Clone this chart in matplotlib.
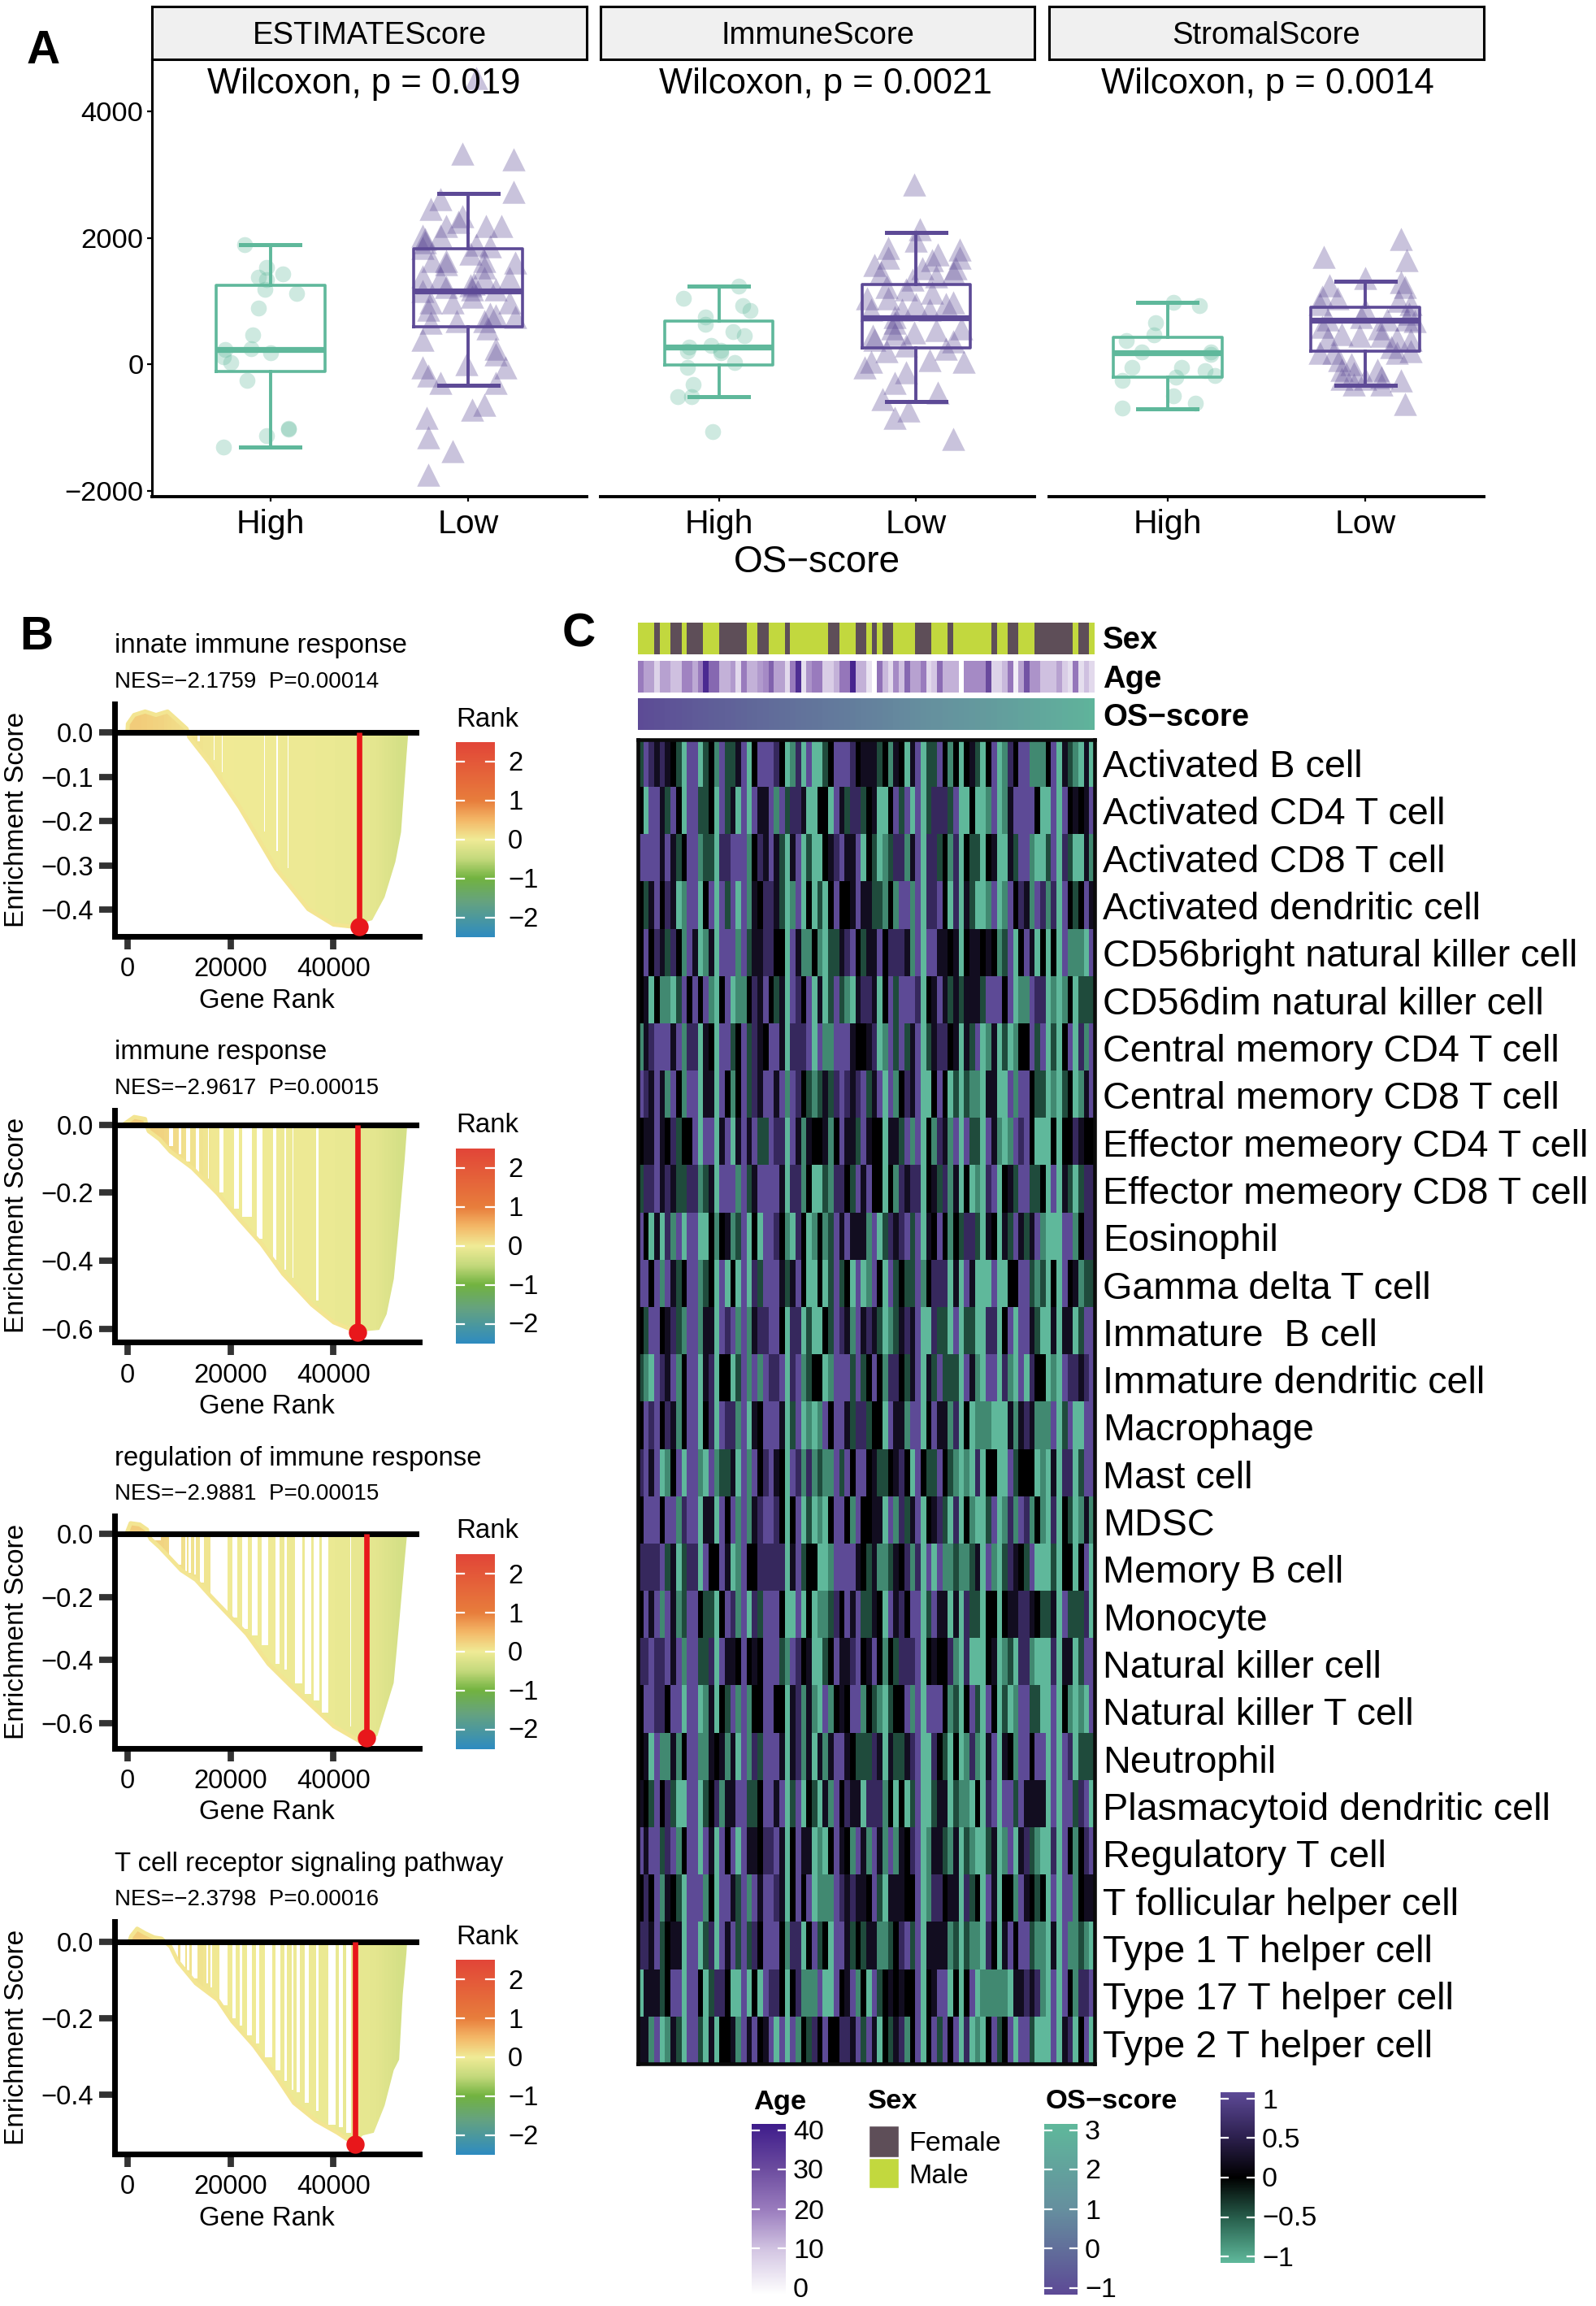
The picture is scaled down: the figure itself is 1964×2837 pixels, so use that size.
import numpy as np
import matplotlib
matplotlib.use('Agg')
import matplotlib.pyplot as plt
from matplotlib.colors import LinearSegmentedColormap, ListedColormap
from matplotlib.patches import Polygon, Rectangle

plt.rcParams['font.family'] = 'Liberation Sans'

W, H = 1964, 2837
GREEN = '#5FB89B'
PURPLE = '#5D4A96'

# Panel A: ESTIMATE / Immune / Stromal scores
score_names = ['ESTIMATEScore', 'ImmuneScore', 'StromalScore']
p_labels = ['Wilcoxon, p = 0.019', 'Wilcoxon, p = 0.0021', 'Wilcoxon, p = 0.0014']
p_label_x = [1.474, 1.54, 1.507]

est_high_x = [0.87, 0.98, 1.06, 0.94, 0.98, 0.97, 1.13, 0.94, 0.91, 0.90, 0.77, 0.76, 1.0, 0.80, 0.88, 1.09, 1.09, 0.98, 0.76]
est_high_y = [1893, 1527, 1432, 1385, 1337, 1189, 1124, 893, 467, 243, 231, 124, 183, 24, -249, -1018, -1030, -1130, -1308]
est_low_x = [2.04, 1.97, 2.23, 2.23, 1.86, 1.81, 1.97, 1.95, 1.89, 2.09, 2.17, 1.77, 1.86, 1.78, 1.78, 2.04, 2.11, 1.77, 2.01,
             1.82, 1.89, 1.89, 2.08, 2.08, 2.24, 1.86, 1.77, 2.21, 2.08, 2.01, 2.03, 2.14, 1.77, 1.89, 2.02, 1.81, 1.92, 2.21,
             2.02, 1.80, 2.11, 2.14, 2.24, 1.94, 1.81, 2.08, 2.10, 1.77, 2.14, 2.14, 1.99, 2.19, 1.77, 1.80, 1.86, 2.14, 2.08,
             2.02, 1.79, 1.80, 1.92, 1.80]
est_low_y = [4532, 3337, 3243, 2728, 2610, 2462, 2343, 2254, 2195, 2183, 2189, 2035, 2030, 1988, 1929, 1899, 1870, 1840, 1751,
             1633, 1633, 1586, 1633, 1527, 1604, 1367, 1396, 1367, 1367, 1248, 1278, 1189, 1160, 1219, 1189, 982, 982, 982,
             1071, 864, 805, 775, 746, 686, 657, 686, 568, 391, 243, 154, 6, -53, -53, -172, -290, -290, -645,
             -722, -852, -1148, -1367, -1740]

imm_high_x = [1.10, 0.82, 1.12, 1.16, 0.93, 0.93, 1.07, 1.13, 0.96, 0.85, 0.84, 1.01, 1.01, 1.08, 0.84, 0.87, 0.79, 0.86, 0.97]
imm_high_y = [1231, 1041, 923, 852, 746, 639, 521, 450, 302, 272, 213, 225, 183, 24, -53, -320, -509, -509, -1059]
imm_low_x = [1.99, 2.02, 2.0, 1.86, 1.86, 2.22, 2.22, 2.11, 1.79, 2.08, 2.2, 1.82, 2.03, 2.10, 1.98, 2.19, 1.95, 1.85, 2.08, 1.75,
             1.86, 2.19, 2.15, 2.0, 1.77, 1.93, 2.07, 1.89, 1.89, 1.78, 1.99, 1.88, 2.10, 2.23, 1.79, 1.89, 1.95, 1.85, 2.19, 2.15,
             2.07, 1.77, 2.24, 1.74, 1.95, 1.89, 2.11, 1.83, 1.96, 1.89, 2.19]
imm_low_y = [2846, 2136, 1959, 1840, 1692, 1822, 1692, 1740, 1574, 1645, 1515, 1456, 1515, 1396, 1337, 1456, 1189, 1219, 1130, 1041,
             1041, 982, 953, 953, 864, 864, 864, 746, 657, 450, 509, 568, 538, 568, 391, 479, 302, 213, 361, 243,
             65, 36, 36, -53, -130, -290, -450, -556, -734, -840, -1177]

str_high_x = [1.03, 1.16, 0.94, 0.93, 0.79, 0.87, 1.22, 1.22, 0.82, 1.07, 1.19, 1.04, 1.24, 0.77, 1.03, 1.14, 0.77]
str_high_y = [982, 935, 657, 461, 379, 201, 201, 154, -53, -53, -95, -201, -172, -260, -497, -615, -686]
str_low_x = [2.18, 2.21, 1.79, 2.0, 1.82, 2.18, 2.2, 1.78, 1.86, 2.17, 1.77, 2.23, 2.0, 2.22, 1.98, 1.81, 2.25, 2.11, 2.21,
             1.78, 2.07, 1.88, 1.97, 1.81, 2.08, 2.16, 2.23, 1.77, 1.84, 2.13, 2.16, 2.23, 1.87, 1.93, 1.88, 2.06, 1.94, 1.88,
             2.08, 1.94, 2.08, 2.18, 2.2, 2.0]
str_low_y = [1988, 1645, 1704, 1367, 1248, 1308, 1219, 1071, 1041, 1012, 953, 953, 864, 805, 746, 716, 686, 716, 716,
             598, 568, 479, 450, 420, 450, 420, 391, 183, 183, 272, 183, 213, 65, 6, -83, -83, -142, -231,
             -201, -320, -320, -260, -627, -231]

# q1, median, q3, lower whisker, upper whisker
est_high_box = [-118, 237, 1254, -1308, 1893]
est_low_box = [598, 1160, 1828, -331, 2698]
imm_high_box = [-12, 272, 686, -509, 1237]
imm_low_box = [260, 734, 1260, -586, 2089]
str_high_box = [-201, 183, 426, -698, 982]
str_low_box = [207, 698, 899, -337, 1320]

# Panel B: GSEA running scores
gsea_titles = ['innate immune response', 'immune response', 'regulation of immune response', 'T cell receptor signaling pathway']
gsea_stats = ['NES=\u22122.1759  P=0.00014', 'NES=\u22122.9617  P=0.00015', 'NES=\u22122.9881  P=0.00015', 'NES=\u22122.3798  P=0.00016']
gsea_yticks = [[0.0, -0.1, -0.2, -0.3, -0.4], [0.0, -0.2, -0.4, -0.6], [0.0, -0.2, -0.4, -0.6], [0.0, -0.2, -0.4]]
gsea_ylims = [(-0.46, 0.065), (-0.6395, 0.0431), (-0.678, 0.0559), (-0.5545, 0.0519)]
gsea_tops = [866, 1365.7, 1865, 2364.3]

rank1 = [0, 100, 1300, 3450, 5560, 7800, 9800, 11500, 12000, 16100, 21800, 28800, 35100, 40000, 43200, 47500, 49900, 52000, 53100, 54150, 54500]
es1 = [0, .02, .04, .048, .04, .048, .027, .009, -.01, -.071, -.169, -.307, -.399, -.434, -.438, -.424, -.372, -.292, -.225, -.053, 0]
rank2 = [-350, 1340, 3450, 3660, 4150, 6270, 8380, 12600, 17500, 21750, 26000, 30200, 35800, 40050, 44650, 48860, 50300, 51700, 52700, 53800, 54300]
es2 = [.005, .023, .017, 0, -.019, -.043, -.079, -.127, -.202, -.278, -.35, -.438, -.529, -.581, -.609, -.603, -.557, -.453, -.294, -.103, 0]
rank3 = [-70, 630, 2390, 3800, 4010, 4510, 6270, 10490, 13300, 16120, 19640, 23160, 27390, 31610, 35830, 40060, 46040, 48500, 49900, 51670, 52730, 53790, 54280]
es3 = [.004, .033, .029, .013, 0, -.017, -.043, -.116, -.146, -.197, -.257, -.317, -.412, -.48, -.545, -.609, -.665, -.639, -.566, -.472, -.283, -.086, 0]
rank4 = [280, 770, 1900, 3450, 5210, 6620, 8380, 9790, 13300, 17530, 20350, 24570, 28790, 32310, 36540, 40760, 43930, 45690, 47800, 49910, 51670, 52730, 53430, 54140, 54280]
es4 = [-.003, .015, .034, .022, .011, .008, -.013, -.052, -.109, -.152, -.208, -.272, -.35, -.421, -.467, -.499, -.527, -.506, -.499, -.428, -.336, -.308, -.138, -.031, 0]
gsea_ranks = [rank1, rank2, rank3, rank4]
gsea_es = [es1, es2, es3, es4]

# leading edge marker
peak_rank = [44930, 44650, 46400, 44230]
peak_es = [-0.438, -0.609, -0.646, -0.528]

# white gaps between the gene bars: start rank, end rank, score where it stops
gaps1 = [(13660, 14010, -.019), (15420, 15560, -.047), (16760, 16900, -.062), (18370, 18520, -.089),
         (26540, 26680, -.224), (28930, 29220, -.267), (31050, 31260, -.307)]
gaps2 = [(8030, 8940, -.063), (9930, 10490, -.087), (11400, 12110, -.107), (13300, 13870, -.139), (15630, 15840, -.159),
         (17810, 18660, -.198), (20700, 21610, -.246), (22320, 24220, -.27), (25130, 26260, -.334), (28230, 28940, -.398),
         (30550, 30760, -.426), (32030, 32240, -.45), (36600, 37030, -.517)]
gaps3 = [(4290, 6480, -.021), (8100, 10490, -.099), (11190, 11550, -.12), (11900, 12320, -.124), (13020, 13310, -.129),
         (14150, 14920, -.154), (16120, 19500, -.249), (20350, 21260, -.266), (22320, 23300, -.30), (24220, 25270, -.322),
         (25980, 27390, -.352), (28790, 29500, -.412), (30550, 30910, -.429), (32450, 33930, -.472), (34430, 35690, -.506),
         (36190, 37240, -.528), (37800, 39000, -.566), (43230, 43440, -.609)]
gaps4 = [(8380, 9790, -.045), (10280, 11190, -.067), (11550, 12040, -.074), (12460, 13660, -.095), (15280, 15630, -.109),
         (16120, 16470, -.12), (17880, 19500, -.166), (20350, 21050, -.201), (21750, 22320, -.219), (23160, 24220, -.244),
         (24920, 25630, -.265), (26680, 28090, -.301), (28790, 29640, -.336), (30550, 30910, -.364), (31820, 32170, -.386),
         (32880, 33440, -.393), (34430, 35130, -.421), (36680, 37030, -.442), (39000, 40410, -.478), (41110, 41820, -.485),
         (42520, 43440, -.499)]
gsea_gaps = [gaps1, gaps2, gaps3, gaps4]

# ranking metric along the gene list, every 5000 genes
rank_metric = [0.3, 0.22, 0.1, 0.04, 0.0, -0.01, -0.02, -0.03, -0.05, -0.08, -0.13, -0.3]

# Panel C: heatmap of immune cell scores
cell_types = ['Activated B cell', 'Activated CD4 T cell', 'Activated CD8 T cell', 'Activated dendritic cell',
              'CD56bright natural killer cell', 'CD56dim natural killer cell', 'Central memory CD4 T cell',
              'Central memory CD8 T cell', 'Effector memeory CD4 T cell', 'Effector memeory CD8 T cell', 'Eosinophil',
              'Gamma delta T cell', 'Immature  B cell', 'Immature dendritic cell', 'Macrophage', 'Mast cell', 'MDSC',
              'Memory B cell', 'Monocyte', 'Natural killer cell', 'Natural killer T cell', 'Neutrophil',
              'Plasmacytoid dendritic cell', 'Regulatory T cell', 'T follicular helper cell', 'Type 1 T helper cell',
              'Type 17 T helper cell', 'Type 2 T helper cell']

sex = ('MMMFMMFFMFFFMMMFFFFFMMFFMMMFMMMMMMMFFMMMFFMFMFFMMMMFFFMMMFMMMMMMMFMMFFMMMFFFFFFFMFFM')
age = [20, 15, 15, 8, 15, 15, 11, 11, 19, 19, 14, 20, 37, 24, 24, 13, 13, 16, 7, 20, 13, 13, 16, 18, 25, 15, 15, 7, 20, 36,
       6, 17, 20, 20, 9, 9, 13, 21, 21, 38, 13, 13, 5, np.nan, 22, 12, 7, 18, 11, 24, 15, 15, 20, 7, 10, 23, 13, 13, 13, np.nan,
       18, 18, 18, 18, 30, 8, 8, 12, 21, 3, 15, 28, 17, 17, 11, 11, 11, 15, 9, 6, 21, 6, 11, 7]
os_score = [-0.95, -0.9, -0.85, -0.8, -0.78, -0.72, -0.7, -0.65, -0.6, -0.58, -0.52, -0.5, -0.45, -0.42, -0.38, -0.35, -0.3, -0.27,
            -0.22, -0.2, -0.15, -0.12, -0.08, -0.05, 0.0, 0.03, 0.06, 0.1, 0.12, 0.16, 0.2, 0.22, 0.26, 0.3, 0.33, 0.36, 0.4,
            0.44, 0.47, 0.5, 0.54, 0.58, 0.6, 0.65, 0.68, 0.72, 0.76, 0.8, 0.84, 0.88, 0.92, 0.96, 1.0, 1.05, 1.1, 1.14, 1.2,
            1.25, 1.3, 1.35, 1.4, 1.45, 1.5, 1.56, 1.62, 1.68, 1.74, 1.8, 1.86, 1.92, 1.98, 2.05, 2.1, 2.16, 2.22, 2.28, 2.34,
            2.4, 2.46, 2.52, 2.58, 2.65, 2.72, 2.8]

# cell shades: G bright green, m mid green, d dark green, k black, n near black purple, p dim purple, P bright purple
heat_rows = [
    'dPpnpnkdGP PGdkmPddnP GkPPPpkGmp GPGGdkPPPp knnndkmnkG nPGddPkmkG kndGkPGmpk PPmmmkPGnd mGnG',
    'kGPPndPkGP PddkGPdnGP GPnnPmPdpp nGGkkGPndp pdknGGkPdP GPGdpppdPG GkGGmPGmnP PPPkGGPGPk nknP',
    'PPPPnPndkP PmddGppPPP mkpnPndGnP GdGGknpPnn PGkdGmdppm nPGppdkmpG kddGknGGnd PPmGGdPGpd GGnm',
    'kdnPkpnGmP PGkPGPdPGP mnkppndGmP GkGdGkPkkn PnnddmkmPP mPGppPkGpG ndGGmPGmPk pnmPpmpGPk dkPn',
    'kPkpndpkmP nGmnGPPPmP dnnppkkGPn mmkmGddnpP kdnnPkpppn mPGPPnnknG knnknkmdPG kPnGkGkGPm mmGP',
    'knGkmmGdPk PkPmGkPGmm kpnPkdnGPp kPGnGdPdmG nppnGkPdPP PpGknPndnd nnndPPPkPG mmPppGmGmk Gddd',
    'mnpPPPnPmp pGnkGPPdkP dpnkPPnGpp pPGPmmPPPn kknpGmPdPd nPGdnppknG ndPGmnGdGm kkPdPGdGkP GpmP',
    'PpnPnmPkmP PGnnGPkmkP dpnPPnPmPp kdmdndpPpn pPdnPGPmkp nPGGkPkGdG dmmGnnGGPm PPkddGmGdk GmnP',
    'knnPnkpdkk PGPPGnPGnP nPddPppGPn mnkknmkPnn dPnkkGnndP mPGkmpnmPG PddGPnmGmP pPkGGGkGkk pnkk',
    'dppPnpnddp pmdnGPPPmP dnPPPPnGpp mkGGdmppkd PnPkkGkmpn ppGkndpmnG kGmGpPGknd PPddkGPGnd Gdpp',
    'PkGnGpmPGP PGGkmknmdP GkGPPpkmGp kGmkmdPnPn nnmPGdpnpP dPGnkPkmkd ppdGnkGndP ndnPmGGGPP mkpp',
    'PPkPmPndkP PmdkGPGkGP GpdPPPndnP kGGkGdPdkG PGmPkGPdkd dPmkpppGnG PnGGGPGGkk PPdmdGkGPk nmdd',
    'kdPPknpdmP PmnnGPpPmP mnppPPkGpp GdGGkdPpnm PnpndGmdnp nPGGpddGPG ddGGppGkPG PPndGGnGnn GdPP',
    'dmGPpnPmkP PGnpGkkGdP mPmPppPGpP mdkkGmPPPd PdkPkmppkd nPGndPdddG PnmGPPGpmG PGpkkGmGPp pnpP',
    'kPpPkpnmkP PGkpGPppmP GnkPPPnGdP GmGmPkPPnd ppdkkGPnnm PPGkPnnmpG kGmmmGGGnm npnmmmPGdP GGPP',
    'pPnPGmkPGP PmGPmddnGP mPkpPnkGPp mpmdmmPdPk PPknddknpk GPkddPkdmG mGpGkkGGPd kkkGmGnGpp GdPP',
    'kPPPkPPmpP PGnnGPkPmP mnpPPpkGkP GdGmGkPPkm PkknnGPmpd nPGknpdGpG kmGGdPGmpm PpmkmGpGkd Gmnm',
    'ppppPdnGdp pGPkkPnGmP kkpppppGnP dkkGGmPPPP nkdnmmdnkp mpGPGPmmdm mdnGPmGdpn kdPGGGdGkk GkPG',
    'kPnPmPnmdP PkddGkPpmP GpdPPPkGGP GkGmmdpkPn PddnkGPnpk PPGdPnnGnG pddGkkGknn ppnkddnGPd ddpG',
    'ppPppPnPmP PddpGPnnkP knkPPPdmPp knGGdkPnnp PknPkmkdpp pPGknkkpmG pGGGknGmdG ppmGGGpGnn GdPP',
    'kPPppkPPGP PGmnGkdPmP mkkPPkkGnp mnmGPmknkP PmkdmGdkkP mPGPPPkmdG kPdGPkGdGm PPddGGPGkm GmGP',
    'knGPmmnmkP PmmnknmnGP mpdPPPnGnp mnGnmnPPnk dddpnGnddn pPGGpkdGkG mpmGnPGnkm PPkPPGPGPp Gddd',
    'nkdPkpdGGP PGdkpmnnPP ddkPPnPGdP GkdGnmPkpn nGpppmkGkG dPGGdnnGdm mGkGpPGPPd PnnnnGPGPP dpPG',
    'PnPPdpPmkP PGPnGPkPGP nnkppPnGkP nnGmGkPnkm PnmPnmPmnk pPGmnndmnG dmGGdnGmPG npdmGGpGPk mkpP',
    'kpkPmnkdGP PPmkGPPndP mPnPPpnGkP kPGmmmPpnp nnkPdGnnnk kPGmppknnG pdkGPnGkkm PnkdkGPGPP mknn',
    'ppnPdknnGP PGdpGPnPdP dpkPPPkmpp GkPdkGPPnd kdnnmmdkpP dPGnnnnmdG dmmGpkGnPk PPdmmGnGPm mdmG',
    'GnnndkPPGP PkGdppkGGP GkGPppkGkp mmmPGGPknP mkGPdknknk kPGknPPGkG kPGmmmmmGn npnpmGPGPk mppP',
    'nnmPGmndGP PdGnGkknmP nPknPGPGPm kdpkPkkppn PdPnGkdnpm kPGkPdPkPG pGmGkPdkPG PPdGGGPGnp GkPG',
]
heat_codes = {'G': -1.0, 'm': -0.72, 'd': -0.38, 'k': 0.0, 'n': 0.2, 'p': 0.58, 'P': 1.0}

rank_cmap = LinearSegmentedColormap.from_list('rank', [(0.0, '#2F8CC0'), (0.18, '#66A37F'), (0.3, '#72B340'), (0.4, '#C4D97C'),
                                                      (0.5, '#F0EB96'), (0.6, '#F4B868'), (0.7, '#E87E3C'), (1.0, '#E24638')])
heat_cmap = LinearSegmentedColormap.from_list('heat', [(0.0, GREEN), (0.25, '#2A6350'), (0.5, '#000000'), (0.75, '#2F2252'), (1.0, PURPLE)])
os_cmap = LinearSegmentedColormap.from_list('os', [PURPLE, '#668F9F', GREEN])
age_cmap = LinearSegmentedColormap.from_list('age', [(0.0, '#FFFFFF'), (0.25, '#D5C8E4'), (0.5, '#9A7CBE'), (0.75, '#6A4A9E'), (1.0, '#3F1D8C')])
age_cmap.set_bad('white')
sex_cmap = ListedColormap(['#5E4E58', '#C2D83E'])

fig = plt.figure(figsize=(W / 100, H / 100), dpi=100)


def add_ax(left, top, right, bottom):
    return fig.add_axes([left / W, 1 - bottom / H, (right - left) / W, (bottom - top) / H])


def put_text(x, y, s, **kw):
    kw.setdefault('ha', 'left')
    kw.setdefault('va', 'center')
    # centred text sits a little high against the reference, rotated text does not
    if 'rotation' not in kw:
        y = y + 3
    fig.text(x / W, 1 - y / H, s, **kw)


def box_stats(v):
    return {'q1': v[0], 'med': v[1], 'q3': v[2], 'whislo': v[3], 'whishi': v[4], 'fliers': []}


def minus(v, fmt):
    return (fmt % v).replace('-', '\u2212')


def gradient_bar(left, top, right, bottom, cmap, lo, hi, ticks):
    # legend colour bar with the short white dashes on both sides
    ax = add_ax(left, top, right, bottom)
    ax.imshow(np.linspace(hi, lo, 200).reshape(-1, 1), cmap=cmap, vmin=lo, vmax=hi, aspect='auto',
              extent=[0, 1, lo, hi], interpolation='bilinear')
    for t in ticks:
        ax.plot([0, 0.22], [t, t], color='white', lw=1.6)
        ax.plot([0.78, 1], [t, t], color='white', lw=1.6)
    ax.set_xlim(0, 1)
    ax.set_ylim(lo, hi)
    ax.axis('off')
    return ax


# --- panel A ---
panel_lefts = [187, 739, 1291]
panel_rights = [722, 1273, 1826]
high_pts = [(est_high_x, est_high_y), (imm_high_x, imm_high_y), (str_high_x, str_high_y)]
low_pts = [(est_low_x, est_low_y), (imm_low_x, imm_low_y), (str_low_x, str_low_y)]
high_boxes = [est_high_box, imm_high_box, str_high_box]
low_boxes = [est_low_box, imm_low_box, str_low_box]

for i in range(3):
    ax = add_ax(panel_lefts[i], 73, panel_rights[i], 611)
    ax.scatter(high_pts[i][0], high_pts[i][1], marker='o', s=200, color=GREEN, alpha=0.3, linewidths=0, zorder=2)
    ax.scatter(low_pts[i][0], low_pts[i][1], marker='^', s=420, color=PURPLE, alpha=0.33, linewidths=0, zorder=2)
    for pos, vals, col in [(1, high_boxes[i], GREEN), (2, low_boxes[i], PURPLE)]:
        ax.bxp([box_stats(vals)], positions=[pos], widths=0.55, showfliers=False, capwidths=0.3, manage_ticks=False,
               boxprops=dict(color=col, lw=2.6), whiskerprops=dict(color=col, lw=2.8),
               capprops=dict(color=col, lw=3.6), medianprops=dict(color=col, lw=5.2, solid_capstyle='butt'), zorder=3)
    ax.text(p_label_x[i], 4437, p_labels[i], fontsize=31.5, ha='center', va='center', zorder=5)
    ax.set_xlim(0.4, 2.6)
    ax.set_ylim(-2093, 4825)
    ax.set_xticks([1, 2])
    ax.set_xticklabels(['High', 'Low'], fontsize=29.5)
    ax.tick_params(axis='x', length=4.5, width=1.6, pad=6.5)
    for s in ['top', 'right']:
        ax.spines[s].set_visible(False)
    ax.spines['bottom'].set_linewidth(2.8)
    if i == 0:
        ax.spines['left'].set_linewidth(2.2)
        ax.set_yticks([-2000, 0, 2000, 4000])
        ax.set_yticklabels(['\u22122000', '0', '2000', '4000'], fontsize=24.8)
        ax.tick_params(axis='y', length=4.5, width=1.6, pad=3)
    else:
        ax.spines['left'].set_visible(False)
        ax.set_yticks([])
    strip = add_ax(panel_lefts[i], 8, panel_rights[i], 73)
    strip.set_facecolor('#F0F0F0')
    strip.set_xticks([])
    strip.set_yticks([])
    for s in strip.spines.values():
        s.set_linewidth(2.2)
    strip.text(0.5, 0.45, score_names[i], fontsize=27.5, ha='center', va='center', transform=strip.transAxes)

put_text(1005, 689, 'OS\u2212score', fontsize=33, ha='center')
put_text(33, 60, 'A', fontsize=41, fontweight='bold')
put_text(24, 781, 'B', fontsize=41, fontweight='bold')
put_text(692, 778, 'C', fontsize=41, fontweight='bold')

# --- panel B ---
for i in range(4):
    top = gsea_tops[i]
    shift = top - 866
    ax = add_ax(140.6, top, 515.6, top + 285.7)
    curve = list(zip(gsea_ranks[i], gsea_es[i]))
    patch = Polygon(curve, closed=True, facecolor='none', edgecolor='none')
    ax.add_patch(patch)
    im = ax.imshow(np.array(rank_metric).reshape(1, -1), cmap=rank_cmap, vmin=-2.5, vmax=2.5, aspect='auto',
                   extent=[0, 55000, gsea_ylims[i][0], gsea_ylims[i][1]], interpolation='bilinear', zorder=1)
    im.set_clip_path(patch)
    for g in gsea_gaps[i]:
        ax.fill_between([g[0], g[1]], 0, g[2], color='white', linewidth=0, zorder=2)
    # the running score itself reads as a thick pale band down to the peak
    left_part = [c for c in curve if c[0] <= peak_rank[i]]
    ax.plot([c[0] for c in left_part], [c[1] for c in left_part], color='#F3E592', lw=3.6, zorder=3)
    ax.axhline(0, color='black', lw=5, zorder=4)
    ax.plot([peak_rank[i], peak_rank[i]], [0, peak_es[i]], color='#E8171B', lw=4.8, solid_capstyle='butt', zorder=5)
    ax.scatter([peak_rank[i]], [peak_es[i]], s=260, color='#E8171B', linewidths=0, zorder=6, clip_on=False)
    ax.set_xlim(-2540, 56580)
    ax.set_ylim(*gsea_ylims[i])
    ax.set_xticks([0, 20000, 40000])
    ax.set_xticklabels(['0', '20000', '40000'], fontsize=23.6)
    ax.set_yticks(gsea_yticks[i])
    ax.set_yticklabels([minus(v, '%.1f') for v in gsea_yticks[i]], fontsize=23.6)
    ax.tick_params(axis='x', length=11.5, width=5.6, color='#333333', pad=6.6)
    ax.tick_params(axis='y', length=14, width=5.6, color='#333333', pad=4.5)
    for s in ['top', 'right']:
        ax.spines[s].set_visible(False)
    ax.spines['left'].set_linewidth(5)
    ax.spines['bottom'].set_linewidth(5)

    put_text(140.6, 792 + shift, gsea_titles[i], fontsize=23.7)
    put_text(140.6, 836 + shift, gsea_stats[i], fontsize=20)
    put_text(21, 1008 + shift, 'Enrichment Score', fontsize=24, rotation=90, ha='center')
    put_text(328, 1228 + shift, 'Gene Rank', fontsize=23.8, ha='center')
    put_text(561.6, 882 + shift, 'Rank', fontsize=23.8)
    gradient_bar(561, 913 + shift, 608.5, 1153 + shift, rank_cmap, -2.5, 2.5, [-2, -1, 0, 1, 2])
    for t, ty in zip(['2', '1', '0', '\u22121', '\u22122'], [937, 985, 1032.7, 1080.7, 1128]):
        put_text(625, ty + shift, t, fontsize=23.6)

# --- panel C annotations ---
ax = add_ax(785, 766, 1347, 805)
ax.imshow([[0 if s == 'F' else 1 for s in sex]], cmap=sex_cmap, vmin=0, vmax=1, aspect='auto', interpolation='nearest')
ax.axis('off')
ax = add_ax(785, 813, 1347, 852)
ax.imshow([age], cmap=age_cmap, vmin=0, vmax=40, aspect='auto', interpolation='nearest')
ax.axis('off')
ax = add_ax(785, 859, 1347, 898)
ax.imshow([os_score], cmap=os_cmap, vmin=-1, vmax=3, aspect='auto', interpolation='nearest')
ax.axis('off')
put_text(1357, 785, 'Sex', fontsize=27.5, fontweight='bold')
put_text(1357, 833, 'Age', fontsize=27.5, fontweight='bold')
put_text(1357, 880, 'OS\u2212score', fontsize=27.5, fontweight='bold')

# --- heatmap ---
heat = np.array([[heat_codes[c] for c in row.replace(' ', '')] for row in heat_rows])
ax = add_ax(785, 910.3, 1347, 2539)
ax.imshow(heat, cmap=heat_cmap, vmin=-1, vmax=1, aspect='auto', interpolation='nearest')
ax.set_xticks([])
ax.set_yticks([])
for s in ax.spines.values():
    s.set_linewidth(3.3)
    s.set_color('#0A0A0A')
for i, name in enumerate(cell_types):
    put_text(1357, 941 + 58.32 * i, name, fontsize=33.7)

# --- panel C legends ---
put_text(927, 2583, 'Age', fontsize=24.8, fontweight='bold')
put_text(1068, 2583, 'Sex', fontsize=24.8, fontweight='bold')
put_text(1287, 2583, 'OS\u2212score', fontsize=24.8, fontweight='bold')

gradient_bar(925, 2613, 967, 2823, age_cmap, -1.7, 41.6, [10, 20, 30, 40])
for t, ty in zip(['40', '30', '20', '10', '0'], [2621, 2669, 2718, 2767, 2815]):
    put_text(976, ty, t, fontsize=24.5)

sex_ax = add_ax(1069, 2615, 1106, 2692)
sex_ax.add_patch(Rectangle((0, 0.5), 1, 0.5, facecolor='#5E4E58', edgecolor='white', lw=1))
sex_ax.add_patch(Rectangle((0, 0), 1, 0.48, facecolor='#C2D83E', edgecolor='white', lw=1))
sex_ax.axis('off')
put_text(1118, 2634, 'Female', fontsize=24.5)
put_text(1118, 2674, 'Male', fontsize=24.5)

gradient_bar(1285, 2613, 1326, 2823, os_cmap, -1.17, 3.16, [-1, 0, 1, 2, 3])
for t, ty in zip(['3', '2', '1', '0', '\u22121'], [2621, 2669, 2718, 2767, 2815]):
    put_text(1335, ty, t, fontsize=24.5)

gradient_bar(1502, 2574, 1544, 2784, heat_cmap, -1.08, 1.08, [-1, -0.5, 0, 0.5, 1])
for t, ty in zip(['1', '0.5', '0', '\u22120.5', '\u22121'], [2582, 2630, 2679, 2727, 2776]):
    put_text(1553, ty, t, fontsize=24.5)

fig.savefig('out.png', dpi=100)
